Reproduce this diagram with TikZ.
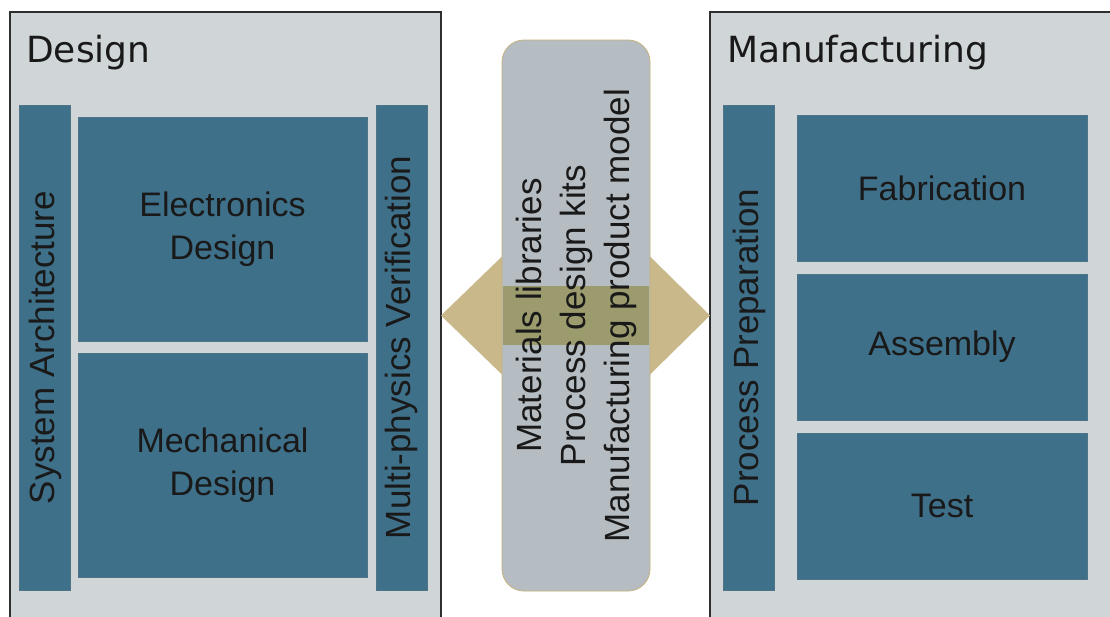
\documentclass[tikz,border=0pt]{standalone}
\usepackage{fontspec}
\setmainfont{Liberation Sans}
\newfontfamily\titlefont{DejaVu Sans}
\usetikzlibrary{positioning,calc}

\definecolor{panelgray}{HTML}{D0D5D8}
\definecolor{panelline}{HTML}{2E2E2E}
\definecolor{tealblue}{HTML}{3F7089}
\definecolor{tealline}{HTML}{4E7587}
\definecolor{kitsgray}{HTML}{B6BDC2}
\definecolor{kitsline}{HTML}{C4B07C}
\definecolor{linktan}{HTML}{C9B88A}
\definecolor{bandolive}{HTML}{9C9B6E}

\begin{document}
\begin{tikzpicture}[x=1pt, y=-1pt,
    panel/.style={draw=panelline, line width=1.2pt, fill=panelgray, rectangle, inner sep=0pt, outer sep=0pt, minimum height=640pt},
    title/.style={anchor=base west, inner sep=0pt, text=black!90, font=\titlefont\fontsize{36}{40}\selectfont},
    block/.style={draw=tealline, line width=0.5pt, fill=tealblue, rectangle, inner sep=0pt, outer sep=0pt, align=center, text=black!90, font=\fontsize{34}{43}\selectfont},
    bar/.style={block, rotate=90, minimum width=485pt, minimum height=51pt, font=\fontsize{35}{43}\selectfont},
    designbox/.style={block, minimum width=289pt, minimum height=224pt},
    stagebox/.style={block, minimum width=290pt, minimum height=146pt},
    kitsbox/.style={draw=kitsline, line width=0.8pt, fill=kitsgray, rectangle, rounded corners=22pt, minimum width=148pt, minimum height=551pt, inner sep=0pt, outer sep=0pt},
    kitsnote/.style={rotate=90, align=center, inner sep=0pt, text=black!90, font=\fontsize{35}{44}\selectfont}
]
    \useasboundingbox (0,0) rectangle (1110,616);
    \fill[white] (0,0) rectangle (1110,616);
    \clip (0,0) rectangle (1110,616);

    % design side
    \node[panel, minimum width=431pt, anchor=north west] (design) at (10,12) {};
    \node[title] (designlbl) at (26,62) {Design};
    \node[bar] (sysarch) at (45,347.5) {System Architecture};
    \node[designbox, anchor=north west] (elec) at (78,117) {Electronics\\Design};
    \node[designbox, below=12pt of elec] (mech) {Mechanical\\Design};
    \node[bar] (multiphys) at (401.5,347.5) {Multi-physics Verification};

    % manufacturing side
    \node[panel, minimum width=420pt, anchor=north west] (manuf) at (710,12) {};
    \node[title] (manuflbl) at (727,62) {Manufacturing};
    \node[bar] (prep) at (749,347.5) {Process Preparation};
    \node[stagebox, anchor=north west] (fab) at (797,115) {Fabrication};
    \node[stagebox, below=13pt of fab] (asm) {Assembly};
    \node[stagebox, below=13pt of asm] (test) {Test};

    % shared models and the two-way link
    \coordinate (hub) at (576,315.5);
    \path (design.east |- hub) coordinate (tipL);
    \path (manuf.west |- hub) coordinate (tipR);
    \fill[linktan] (tipL) -- ++(61,-59) -- ++(0,29.5) -- ++(148,0) -- ++(0,-29.5)
        -- (tipR) -- ++(-60,59) -- ++(0,-29.5) -- ++(-148,0) -- ++(0,29.5) -- cycle;
    \node[kitsbox] (kits) at (hub) {};
    \fill[bandolive] ($(kits.west)+(0.6,-29.5)$) rectangle ($(kits.east)+(-0.6,29.5)$);
    \node[kitsnote] (kitstext) at (kits.center) {Materials libraries\\Process design kits\\Manufacturing product model};
\end{tikzpicture}
\end{document}
